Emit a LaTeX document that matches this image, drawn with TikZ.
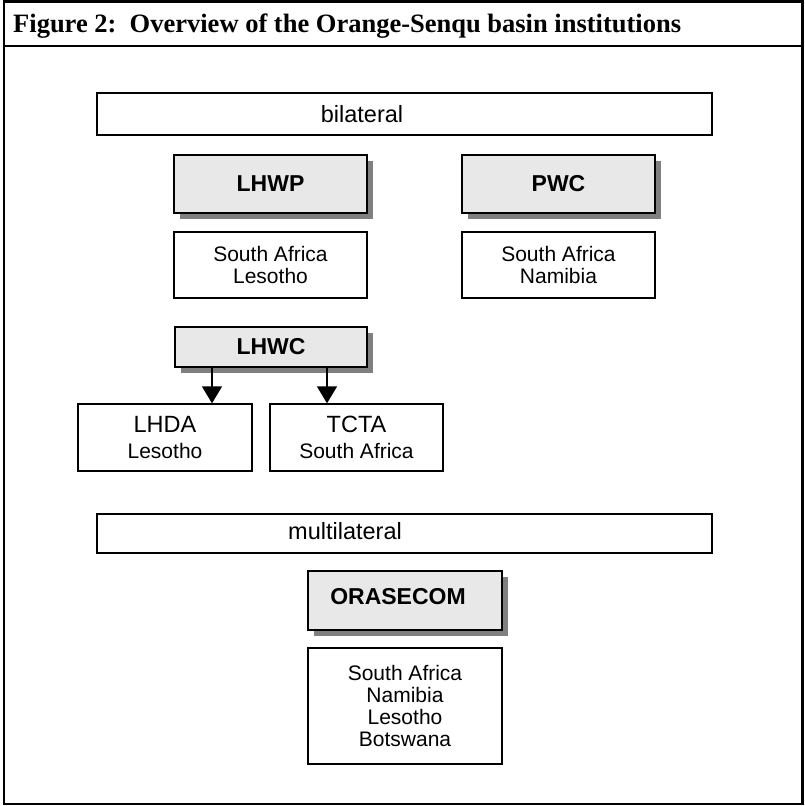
\documentclass[tikz,border=0pt]{standalone}
\usepackage{fontspec}
\setmainfont{Liberation Sans}
\newfontfamily\titlefont{Liberation Serif}
\usepackage{tikz}
\usetikzlibrary{positioning}
\usetikzlibrary{shadows}
\usetikzlibrary{arrows.meta}
\usetikzlibrary{calc}

\begin{document}
\begin{tikzpicture}[x=1pt, y=-1pt,
	box/.style={draw, line width=1.4pt, fill=white, inner sep=0pt, align=center, font=\fontsize{21}{22}\selectfont},
	inst/.style={box, fill=black!9, font=\fontsize{23}{26}\selectfont\bfseries, drop shadow={shadow xshift=5.5pt, shadow yshift=-5.5pt, fill=black!50, opacity=1}},
	band/.style={box, minimum width=615pt},
	bandtext/.style={font=\fontsize{23.5}{26}\selectfont},
	flow/.style={line width=1.4pt, -{Triangle[length=17pt, width=20pt]}}]

\useasboundingbox (0,0) rectangle (804,806);
\draw[line width=2.5pt] (4,1.5) rectangle (802.5,804);
\draw[line width=2.5pt] (4,46) -- (802.5,46);
\node[anchor=base west, inner sep=0pt, font=\titlefont\bfseries\fontsize{26.5}{30}\selectfont] (title) at (13,32) {Figure 2:\ \ Overview of the Orange-Senqu basin institutions};

\node[band, minimum height=42pt, label={[bandtext, xshift=-42.5pt]center:bilateral}] (bilat) at (404.5,114) {};
\node[inst, minimum width=193pt, minimum height=58pt] (lhwp) at (270.5,184) {LHWP};
\node[inst, minimum width=193pt, minimum height=58pt] (pwc) at (558.5,184) {PWC};
\node[box, minimum width=193pt, minimum height=66pt] (lhwpland) at (270.5,265) {South Africa\\Lesotho};
\node[box, minimum width=193pt, minimum height=66pt] (pwcland) at (558.5,265) {South Africa\\Namibia};

\node[inst, minimum width=192pt, minimum height=40pt] (lhwc) at (271,347) {LHWC};
\node[box, minimum width=174pt, minimum height=67pt] (lhda) at (165,437.5) {{\fontsize{23.5}{22}\selectfont LHDA}\\[4pt]Lesotho};
\node[box, minimum width=173pt, minimum height=67pt] (tcta) at (356.5,437.5) {{\fontsize{23.5}{22}\selectfont TCTA}\\[4pt]South Africa};

\node[band, minimum height=39pt, label={[bandtext, xshift=-59.5pt, yshift=2.5pt]center:multilateral}] (multi) at (404.5,533.5) {};
\node[inst, minimum width=194pt, minimum height=59pt, label={[font=\fontsize{23}{26}\selectfont\bfseries, xshift=-7pt, yshift=3.5pt]center:ORASECOM}] (orasecom) at (405,600.5) {};
\node[box, minimum width=194pt, minimum height=116pt] (orasecomland) at (405,706) {South Africa\\Namibia\\Lesotho\\Botswana};

\draw[flow] ([xshift=-59pt]lhwc.south) -- ([xshift=47pt]lhda.north);
\draw[flow] ([xshift=56pt]lhwc.south) -- ([xshift=-29.5pt]tcta.north);
\end{tikzpicture}
\end{document}
